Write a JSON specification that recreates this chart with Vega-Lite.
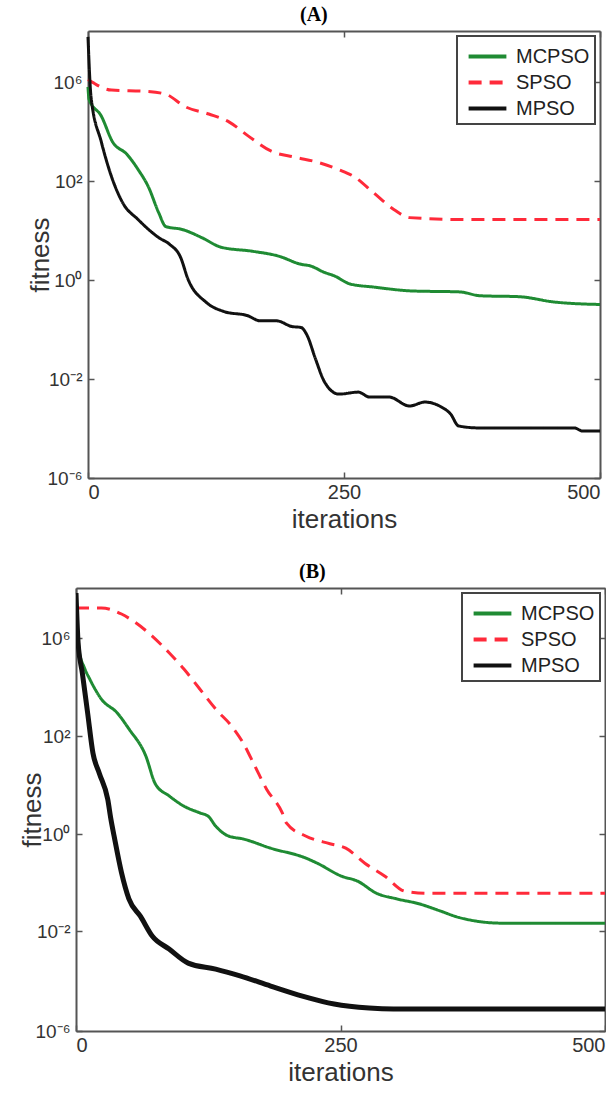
{
  "$schema": "https://vega.github.io/schema/vega-lite/v6.json",
  "background": "white",
  "padding": {"left": 19, "right": 0, "top": 5, "bottom": 0},
  "columns": 1,
  "align": "none",
  "spacing": 30,
  "datasets": {
    "A": [
      {"iteration": 0, "fitness": 1.26e6, "algorithm": "SPSO"},
      {"iteration": 23, "fitness": 4.7e5, "algorithm": "SPSO"},
      {"iteration": 57, "fitness": 4.2e5, "algorithm": "SPSO"},
      {"iteration": 76, "fitness": 3.2e5, "algorithm": "SPSO"},
      {"iteration": 95, "fitness": 1.0e5, "algorithm": "SPSO"},
      {"iteration": 118, "fitness": 5.1e4, "algorithm": "SPSO"},
      {"iteration": 138, "fitness": 2.4e4, "algorithm": "SPSO"},
      {"iteration": 156, "fitness": 6.8e3, "algorithm": "SPSO"},
      {"iteration": 179, "fitness": 1.6e3, "algorithm": "SPSO"},
      {"iteration": 202, "fitness": 912, "algorithm": "SPSO"},
      {"iteration": 225, "fitness": 562, "algorithm": "SPSO"},
      {"iteration": 245, "fitness": 288, "algorithm": "SPSO"},
      {"iteration": 260, "fitness": 148, "algorithm": "SPSO"},
      {"iteration": 279, "fitness": 57.5, "algorithm": "SPSO"},
      {"iteration": 299, "fitness": 26.3, "algorithm": "SPSO"},
      {"iteration": 314, "fitness": 18.2, "algorithm": "SPSO"},
      {"iteration": 371, "fitness": 16.6, "algorithm": "SPSO"},
      {"iteration": 500, "fitness": 16.6, "algorithm": "SPSO"},
      {"iteration": 0, "fitness": 6.3e5, "algorithm": "MCPSO"},
      {"iteration": 1, "fitness": 2.0e5, "algorithm": "MCPSO"},
      {"iteration": 13, "fitness": 4.2e4, "algorithm": "MCPSO"},
      {"iteration": 24, "fitness": 3.8e3, "algorithm": "MCPSO"},
      {"iteration": 38, "fitness": 1.2e3, "algorithm": "MCPSO"},
      {"iteration": 49, "fitness": 288, "algorithm": "MCPSO"},
      {"iteration": 59, "fitness": 76, "algorithm": "MCPSO"},
      {"iteration": 69, "fitness": 23, "algorithm": "MCPSO"},
      {"iteration": 76, "fitness": 12, "algorithm": "MCPSO"},
      {"iteration": 92, "fitness": 10.5, "algorithm": "MCPSO"},
      {"iteration": 111, "fitness": 7.2, "algorithm": "MCPSO"},
      {"iteration": 130, "fitness": 4.6, "algorithm": "MCPSO"},
      {"iteration": 161, "fitness": 3.8, "algorithm": "MCPSO"},
      {"iteration": 187, "fitness": 3.0, "algorithm": "MCPSO"},
      {"iteration": 207, "fitness": 2.1, "algorithm": "MCPSO"},
      {"iteration": 218, "fitness": 1.9, "algorithm": "MCPSO"},
      {"iteration": 230, "fitness": 1.45, "algorithm": "MCPSO"},
      {"iteration": 241, "fitness": 1.2, "algorithm": "MCPSO"},
      {"iteration": 256, "fitness": 0.83, "algorithm": "MCPSO"},
      {"iteration": 279, "fitness": 0.72, "algorithm": "MCPSO"},
      {"iteration": 317, "fitness": 0.6, "algorithm": "MCPSO"},
      {"iteration": 363, "fitness": 0.575, "algorithm": "MCPSO"},
      {"iteration": 383, "fitness": 0.48, "algorithm": "MCPSO"},
      {"iteration": 421, "fitness": 0.46, "algorithm": "MCPSO"},
      {"iteration": 455, "fitness": 0.36, "algorithm": "MCPSO"},
      {"iteration": 500, "fitness": 0.32, "algorithm": "MCPSO"},
      {"iteration": 0, "fitness": 5.9e7, "algorithm": "MPSO"},
      {"iteration": 3, "fitness": 2.4e5, "algorithm": "MPSO"},
      {"iteration": 13, "fitness": 3.8e3, "algorithm": "MPSO"},
      {"iteration": 23, "fitness": 148, "algorithm": "MPSO"},
      {"iteration": 34, "fitness": 36, "algorithm": "MPSO"},
      {"iteration": 49, "fitness": 16.6, "algorithm": "MPSO"},
      {"iteration": 69, "fitness": 7.2, "algorithm": "MPSO"},
      {"iteration": 80, "fitness": 5.2, "algorithm": "MPSO"},
      {"iteration": 90, "fitness": 3.0, "algorithm": "MPSO"},
      {"iteration": 98, "fitness": 1.0, "algorithm": "MPSO"},
      {"iteration": 115, "fitness": 0.36, "algorithm": "MPSO"},
      {"iteration": 133, "fitness": 0.23, "algorithm": "MPSO"},
      {"iteration": 156, "fitness": 0.19, "algorithm": "MPSO"},
      {"iteration": 168, "fitness": 0.15, "algorithm": "MPSO"},
      {"iteration": 184, "fitness": 0.15, "algorithm": "MPSO"},
      {"iteration": 199, "fitness": 0.115, "algorithm": "MPSO"},
      {"iteration": 208, "fitness": 0.11, "algorithm": "MPSO"},
      {"iteration": 214, "fitness": 0.076, "algorithm": "MPSO"},
      {"iteration": 222, "fitness": 0.026, "algorithm": "MPSO"},
      {"iteration": 231, "fitness": 0.0076, "algorithm": "MPSO"},
      {"iteration": 245, "fitness": 0.00245, "algorithm": "MPSO"},
      {"iteration": 264, "fitness": 0.00295, "algorithm": "MPSO"},
      {"iteration": 275, "fitness": 0.00186, "algorithm": "MPSO"},
      {"iteration": 294, "fitness": 0.00186, "algorithm": "MPSO"},
      {"iteration": 314, "fitness": 0.00081, "algorithm": "MPSO"},
      {"iteration": 329, "fitness": 0.00117, "algorithm": "MPSO"},
      {"iteration": 345, "fitness": 0.00074, "algorithm": "MPSO"},
      {"iteration": 354, "fitness": 0.00039, "algorithm": "MPSO"},
      {"iteration": 362, "fitness": 0.000126, "algorithm": "MPSO"},
      {"iteration": 383, "fitness": 0.000105, "algorithm": "MPSO"},
      {"iteration": 475, "fitness": 0.000105, "algorithm": "MPSO"},
      {"iteration": 483, "fitness": 0.000079, "algorithm": "MPSO"},
      {"iteration": 500, "fitness": 0.000079, "algorithm": "MPSO"}
    ],
    "B": [
      {"iteration": 0, "fitness": 1.6e7, "algorithm": "SPSO"},
      {"iteration": 24, "fitness": 1.6e7, "algorithm": "SPSO"},
      {"iteration": 43, "fitness": 9.1e6, "algorithm": "SPSO"},
      {"iteration": 54, "fitness": 4.8e6, "algorithm": "SPSO"},
      {"iteration": 72, "fitness": 1.2e6, "algorithm": "SPSO"},
      {"iteration": 88, "fitness": 2.5e5, "algorithm": "SPSO"},
      {"iteration": 102, "fitness": 5.4e4, "algorithm": "SPSO"},
      {"iteration": 117, "fitness": 8.3e3, "algorithm": "SPSO"},
      {"iteration": 132, "fitness": 1.26e3, "algorithm": "SPSO"},
      {"iteration": 147, "fitness": 257, "algorithm": "SPSO"},
      {"iteration": 158, "fitness": 72, "algorithm": "SPSO"},
      {"iteration": 169, "fitness": 24.5, "algorithm": "SPSO"},
      {"iteration": 180, "fitness": 8.3, "algorithm": "SPSO"},
      {"iteration": 195, "fitness": 2.7, "algorithm": "SPSO"},
      {"iteration": 199, "fitness": 1.66, "algorithm": "SPSO"},
      {"iteration": 217, "fitness": 0.91, "algorithm": "SPSO"},
      {"iteration": 240, "fitness": 0.63, "algorithm": "SPSO"},
      {"iteration": 255, "fitness": 0.51, "algorithm": "SPSO"},
      {"iteration": 273, "fitness": 0.25, "algorithm": "SPSO"},
      {"iteration": 292, "fitness": 0.135, "algorithm": "SPSO"},
      {"iteration": 311, "fitness": 0.066, "algorithm": "SPSO"},
      {"iteration": 333, "fitness": 0.06, "algorithm": "SPSO"},
      {"iteration": 500, "fitness": 0.06, "algorithm": "SPSO"},
      {"iteration": 0, "fitness": 6.3e7, "algorithm": "MCPSO"},
      {"iteration": 3, "fitness": 3.0e5, "algorithm": "MCPSO"},
      {"iteration": 8, "fitness": 6.0e4, "algorithm": "MCPSO"},
      {"iteration": 13, "fitness": 2.1e4, "algorithm": "MCPSO"},
      {"iteration": 24, "fitness": 3.2e3, "algorithm": "MCPSO"},
      {"iteration": 39, "fitness": 871, "algorithm": "MCPSO"},
      {"iteration": 50, "fitness": 195, "algorithm": "MCPSO"},
      {"iteration": 66, "fitness": 39, "algorithm": "MCPSO"},
      {"iteration": 75, "fitness": 10.5, "algorithm": "MCPSO"},
      {"iteration": 88, "fitness": 6.0, "algorithm": "MCPSO"},
      {"iteration": 102, "fitness": 3.7, "algorithm": "MCPSO"},
      {"iteration": 117, "fitness": 2.7, "algorithm": "MCPSO"},
      {"iteration": 125, "fitness": 2.3, "algorithm": "MCPSO"},
      {"iteration": 132, "fitness": 1.45, "algorithm": "MCPSO"},
      {"iteration": 144, "fitness": 0.91, "algorithm": "MCPSO"},
      {"iteration": 158, "fitness": 0.79, "algorithm": "MCPSO"},
      {"iteration": 184, "fitness": 0.51, "algorithm": "MCPSO"},
      {"iteration": 217, "fitness": 0.32, "algorithm": "MCPSO"},
      {"iteration": 228, "fitness": 0.25, "algorithm": "MCPSO"},
      {"iteration": 251, "fitness": 0.135, "algorithm": "MCPSO"},
      {"iteration": 266, "fitness": 0.107, "algorithm": "MCPSO"},
      {"iteration": 284, "fitness": 0.06, "algorithm": "MCPSO"},
      {"iteration": 303, "fitness": 0.046, "algorithm": "MCPSO"},
      {"iteration": 325, "fitness": 0.036, "algorithm": "MCPSO"},
      {"iteration": 344, "fitness": 0.026, "algorithm": "MCPSO"},
      {"iteration": 362, "fitness": 0.019, "algorithm": "MCPSO"},
      {"iteration": 403, "fitness": 0.0145, "algorithm": "MCPSO"},
      {"iteration": 500, "fitness": 0.0145, "algorithm": "MCPSO"},
      {"iteration": 0, "fitness": 6.3e7, "algorithm": "MPSO"},
      {"iteration": 2, "fitness": 6.3e5, "algorithm": "MPSO"},
      {"iteration": 6, "fitness": 3.7e4, "algorithm": "MPSO"},
      {"iteration": 11, "fitness": 871, "algorithm": "MPSO"},
      {"iteration": 16, "fitness": 45, "algorithm": "MPSO"},
      {"iteration": 22, "fitness": 17.4, "algorithm": "MPSO"},
      {"iteration": 30, "fitness": 5.1, "algorithm": "MPSO"},
      {"iteration": 33, "fitness": 2.0, "algorithm": "MPSO"},
      {"iteration": 36, "fitness": 0.91, "algorithm": "MPSO"},
      {"iteration": 43, "fitness": 0.16, "algorithm": "MPSO"},
      {"iteration": 50, "fitness": 0.046, "algorithm": "MPSO"},
      {"iteration": 61, "fitness": 0.02, "algorithm": "MPSO"},
      {"iteration": 72, "fitness": 0.0063, "algorithm": "MPSO"},
      {"iteration": 88, "fitness": 0.0019, "algorithm": "MPSO"},
      {"iteration": 106, "fitness": 0.00052, "algorithm": "MPSO"},
      {"iteration": 132, "fitness": 0.0003, "algorithm": "MPSO"},
      {"iteration": 155, "fitness": 0.00016, "algorithm": "MPSO"},
      {"iteration": 184, "fitness": 0.000063, "algorithm": "MPSO"},
      {"iteration": 214, "fitness": 0.000025, "algorithm": "MPSO"},
      {"iteration": 244, "fitness": 0.000012, "algorithm": "MPSO"},
      {"iteration": 277, "fitness": 0.0000083, "algorithm": "MPSO"},
      {"iteration": 300, "fitness": 0.0000076, "algorithm": "MPSO"},
      {"iteration": 500, "fitness": 0.0000076, "algorithm": "MPSO"}
    ]
  },
  "concat": [
    {
      "width": 524,
      "height": 447,
      "title": {"text": "(A)"},
      "data": {"name": "A"},
      "encoding": {
        "x": {"field": "iteration", "type": "quantitative", "scale": {"domain": [0, 500], "range": [12, 524], "nice": false}},
        "y": {"field": "fitness", "type": "quantitative",
              "scale": {"type": "log", "domain": [1e-6, 0.01, 1, 100, 1e6, 1e8], "range": [447, 348, 249, 150, 51, 0], "nice": false}}
      },
      "layer": [
        {
          "mark": {"type": "line", "strokeWidth": 3, "clip": true, "interpolate": "monotone"},
          "encoding": {
            "x": {"field": "iteration", "type": "quantitative", "axis": {"orient": "bottom", "values": [0, 250, 500], "title": "iterations"}},
            "y": {"field": "fitness", "type": "quantitative",
                  "axis": {"orient": "left", "offset": -12, "values": [1e-6, 0.01, 1, 100, 1e6], "title": "fitness", "titleX": -35,
                           "labelExpr": "datum.value > 1e5 ? '10⁶' : datum.value > 10 ? '10²' : datum.value > 0.1 ? '10⁰' : datum.value > 1e-4 ? '10⁻²' : '10⁻⁶'"}},
            "color": {"field": "algorithm", "type": "nominal", "title": null,
                      "scale": {"domain": ["MCPSO", "SPSO", "MPSO"], "range": ["#1f8b33", "#ff2a3a", "#111111"]}},
            "strokeDash": {"field": "algorithm", "type": "nominal", "title": null,
                      "scale": {"domain": ["MCPSO", "SPSO", "MPSO"], "range": [[1, 0], [13, 8], [1, 0]]}}
          }
        },
        {
          "mark": {"type": "line", "opacity": 0},
          "encoding": {
            "x": {"field": "iteration", "type": "quantitative", "axis": {"orient": "top", "values": [0, 250, 500], "labels": false, "title": null}},
            "y": {"field": "fitness", "type": "quantitative", "axis": {"orient": "right", "values": [1e-6, 0.01, 1, 100, 1e6], "labels": false, "title": null}}
          }
        }
      ],
      "resolve": {"axis": {"x": "independent", "y": "independent"}}
    },
    {
      "width": 529,
      "height": 443,
      "title": {"text": "(B)"},
      "data": {"name": "B"},
      "encoding": {
        "x": {"field": "iteration", "type": "quantitative", "scale": {"domain": [0, 500], "nice": false}},
        "y": {"field": "fitness", "type": "quantitative",
              "scale": {"type": "log", "domain": [1e-6, 0.01, 1, 100, 1e6, 1e8], "range": [443, 343, 246, 148, 50, 0], "nice": false}}
      },
      "layer": [
        {
          "mark": {"type": "line", "strokeWidth": 3, "clip": true, "interpolate": "monotone"},
          "encoding": {
            "x": {"field": "iteration", "type": "quantitative", "axis": {"orient": "bottom", "values": [0, 250, 500], "title": "iterations"}},
            "y": {"field": "fitness", "type": "quantitative",
                  "axis": {"orient": "left", "values": [1e-6, 0.01, 1, 100, 1e6], "title": "fitness", "titleX": -31,
                           "labelExpr": "datum.value > 1e5 ? '10⁶' : datum.value > 10 ? '10²' : datum.value > 0.1 ? '10⁰' : datum.value > 1e-4 ? '10⁻²' : '10⁻⁶'"}},
            "color": {"field": "algorithm", "type": "nominal", "title": null,
                      "scale": {"domain": ["MCPSO", "SPSO", "MPSO"], "range": ["#1f8b33", "#ff2a3a", "#111111"]}},
            "strokeDash": {"field": "algorithm", "type": "nominal", "title": null,
                      "scale": {"domain": ["MCPSO", "SPSO", "MPSO"], "range": [[1, 0], [13, 8], [1, 0]]}}
          }
        },
        {
          "transform": [{"filter": "datum.algorithm === 'MPSO'"}],
          "mark": {"type": "line", "strokeWidth": 5, "clip": true, "interpolate": "monotone", "color": "#111111"},
          "encoding": {
            "x": {"field": "iteration", "type": "quantitative", "axis": {"orient": "top", "values": [0, 250, 500], "labels": false, "title": null}},
            "y": {"field": "fitness", "type": "quantitative", "axis": {"orient": "right", "values": [1e-6, 0.01, 1, 100, 1e6], "labels": false, "title": null}}
          }
        }
      ],
      "resolve": {"axis": {"x": "independent", "y": "independent"}}
    }
  ],
  "resolve": {"scale": {"color": "independent", "strokeDash": "independent"}},
  "config": {
    "font": "Liberation Sans",
    "view": {"stroke": null},
    "title": {"font": "Liberation Serif", "fontSize": 20, "fontWeight": "bold", "color": "#000000", "frame": "bounds", "anchor": "middle", "offset": 5},
    "axis": {
      "grid": false,
      "domainColor": "#555555", "domainWidth": 2,
      "tickColor": "#555555", "tickSize": -6, "tickWidth": 1.5,
      "labelColor": "#333333", "labelFont": "Liberation Sans", "labelFontSize": 20,
      "titleColor": "#333333", "titleFont": "Liberation Sans", "titleFontSize": 26, "titleFontWeight": "normal"
    },
    "axisY": {"labelFontSize": 19, "labelPadding": 12},
    "axisX": {"labelPadding": 10},
    "legend": {
      "orient": "top-right", "offset": 5, "padding": 5,
      "strokeColor": "#444444", "strokeWidth": 2, "fillColor": "white",
      "labelFont": "Liberation Sans", "labelFontSize": 20, "labelColor": "#222222", "labelOffset": 13,
      "labelExpr": "datum.label + '\u2002\u2009'",
      "symbolOffset": 10,
      "symbolType": "M-1.4,0H1.4", "symbolSize": 729, "symbolStrokeWidth": 4, "rowPadding": 0
    }
  }
}
